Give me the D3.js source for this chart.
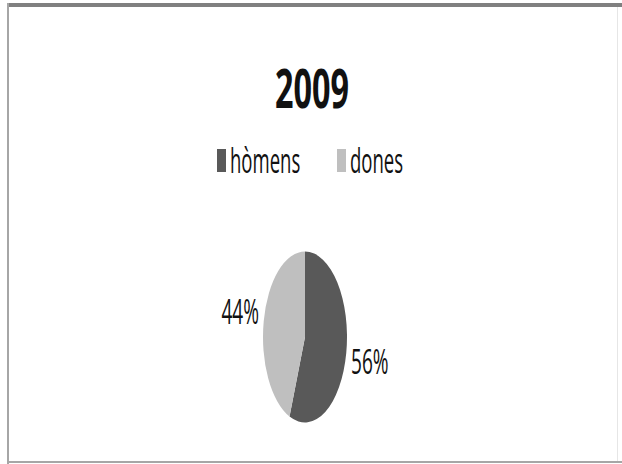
<!DOCTYPE html>
<html lang="ca">
<head>
<meta charset="utf-8">
<title>2009</title>
<script src="https://cdn.jsdelivr.net/npm/d3@7"></script>
<style>
  body { margin: 0; background: #fff; }
  text { font-family: "Open Sans", sans-serif; fill: #111; }
</style>
</head>
<body>
<script>
// data
var title = "2009";
var categories = ["hòmens", "dones"];
var values = [56, 44];
var colors = ["#595959", "#bfbfbf"];

var w = 622, h = 464;
var cx = 305, cy = 337;
var rx = 42, ry = 85.5;

var svg = d3.select("body").append("svg")
  .attr("width", w)
  .attr("height", h);

// frame
svg.append("rect").attr("x", 0).attr("y", 0).attr("width", w).attr("height", h).attr("fill", "#fff");
svg.append("rect").attr("x", 7).attr("y", 3).attr("width", w - 7).attr("height", 4).attr("fill", "#808080");
svg.append("rect").attr("x", 7).attr("y", 3).attr("width", 2).attr("height", h - 3).attr("fill", "#a6a6a6");
svg.append("rect").attr("x", 7).attr("y", 461).attr("width", w - 7).attr("height", 2).attr("fill", "#a6a6a6");
svg.append("rect").attr("x", 617).attr("y", 7).attr("width", 1).attr("height", 454).attr("fill", "#e6e6e6");

// title
svg.append("text")
  .attr("transform", "translate(312,108) scale(0.6,1)")
  .attr("text-anchor", "middle")
  .attr("font-size", 54)
  .attr("font-weight", "bold")
  .text(title);

// legend
var legendX = [217, 337];
var legend = svg.selectAll(".legend")
  .data(categories)
  .enter().append("g")
  .attr("class", "legend");

legend.append("rect")
  .attr("x", function(d, i) { return legendX[i]; })
  .attr("y", 149)
  .attr("width", 9)
  .attr("height", 23)
  .attr("fill", function(d, i) { return colors[i]; });

legend.append("text")
  .attr("transform", function(d, i) { return "translate(" + (legendX[i] + 13) + ",173) scale(0.53,1)"; })
  .attr("font-size", 35)
  .text(function(d) { return d; });

// pie
var pie = d3.pie().sort(null).value(function(d) { return d; });
var arcs = pie(values);
var arc = d3.arc().innerRadius(0).outerRadius(rx);
var labelArc = d3.arc().innerRadius(rx * 1.57).outerRadius(rx * 1.57);

var g = svg.append("g")
  .attr("transform", "translate(" + cx + "," + cy + ") scale(1," + (ry / rx) + ")");

g.selectAll("path")
  .data(arcs)
  .enter().append("path")
  .attr("d", arc)
  .attr("fill", function(d, i) { return colors[i]; });

svg.selectAll(".lbl")
  .data(arcs)
  .enter().append("text")
  .attr("class", "lbl")
  .attr("transform", function(d) {
    var c = labelArc.centroid(d);
    return "translate(" + (cx + c[0]) + "," + (cy + c[1] * ry / rx + 12) + ") scale(0.56,1)";
  })
  .attr("text-anchor", "middle")
  .attr("font-size", 34)
  .text(function(d) { return Math.round(d.value) + "%"; });
</script>
</body>
</html>
